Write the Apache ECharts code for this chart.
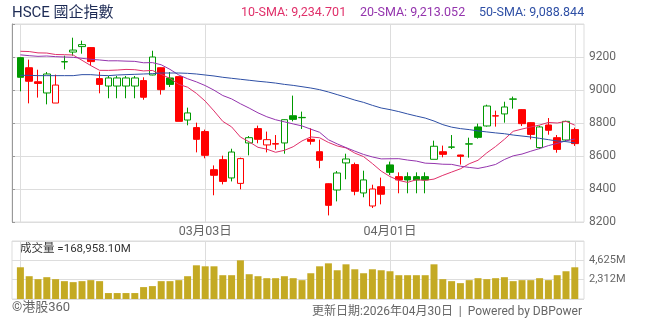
<!DOCTYPE html>
<html><head><meta charset="utf-8">
<script src="https://cdn.jsdelivr.net/npm/echarts@6/dist/echarts.min.js"></script>
<style>html,body{margin:0;padding:0;background:#fff}#c{width:654px;height:325px}</style>
</head><body><div id="c"></div>
<script>
const dates = ['02月02日','02月03日','02月04日','02月05日','02月06日','02月09日','02月10日','02月11日','02月12日','02月13日',
'02月16日','02月17日','02月18日','02月19日','02月20日','02月23日','02月24日','02月25日','02月26日','02月27日',
'03月02日','03月03日','03月04日','03月05日','03月06日','03月09日','03月10日','03月11日','03月12日','03月13日',
'03月16日','03月17日','03月18日','03月19日','03月20日','03月23日','03月24日','03月25日','03月26日','03月27日',
'03月30日','03月31日','04月01日','04月02日','04月03日','04月06日','04月07日','04月08日','04月09日','04月10日',
'04月13日','04月14日','04月15日','04月16日','04月17日','04月20日','04月21日','04月22日','04月23日','04月24日',
'04月27日','04月28日','04月29日','04月30日'];
const opens = [9196,9135,9050,8982,8921,9170,9230,9263,9257,9069,9024,9024,9024,9024,9057,9091,9135,9073,9081,8818,
8772,8748,8517,8578,8467,8434,8679,8766,8667,8675,8679,8844,8832,8701,8626,8432,8394,8558,8548,8376,
8297,8414,8546,8475,8475,8475,8475,8580,8626,8653,8606,8672,8776,8782,8844,8855,8944,8881,8802,8651,
8788,8711,8697,8760];
const closes = [9077,9053,9040,9097,9030,9172,9242,9275,9172,9034,9073,9073,9073,9073,8956,9200,9002,9034,8810,8861,
8701,8604,8483,8446,8624,8584,8711,8701,8699,8672,8820,8822,8834,8689,8574,8301,8497,8582,8386,8455,
8400,8368,8501,8455,8455,8455,8455,8659,8610,8655,8598,8674,8713,8903,8842,8897,8946,8796,8731,8776,
8756,8640,8810,8675];
const lows = [8992,8919,8954,8913,8921,9125,9208,9220,9147,8980,8950,8950,8950,8950,8941,9089,8972,9018,8810,8786,
8622,8586,8362,8428,8446,8398,8604,8677,8622,8638,8614,8810,8764,8669,8526,8240,8325,8459,8362,8350,
8285,8307,8485,8374,8374,8374,8374,8580,8592,8642,8548,8590,8705,8778,8778,8802,8887,8782,8701,8642,
8729,8620,8691,8661];
const highs = [9198,9184,9123,9109,9093,9208,9317,9299,9260,9111,9085,9085,9085,9085,9077,9238,9137,9109,9083,8893,
8802,8760,8543,8602,8644,8590,8721,8784,8748,8727,8822,8966,8869,8768,8699,8434,8509,8614,8560,8511,
8426,8469,8566,8501,8501,8501,8501,8693,8663,8727,8608,8711,8796,8911,8875,8929,8960,8883,8804,8784,
8830,8727,8814,8772];
const dirs = ['G','R','R','G','R','G','G','G','R','R','G','G','G','G','R','G','R','G','R','G',
'R','R','R','R','G','R','G','R','R','R','G','G','G','R','R','R','G','G','R','G',
'R','R','G','R','G','G','G','G','R','G','R','G','G','G','R','G','G','R','R','G',
'R','R','G','R'];
const sma10 = [9234.7,9233,9225,9224,9215,9214,9212,9180,9148,9119.2,9118.8,9121,9124.8,9123.1,9115.7,9118.5,9094.5,9070.4,9034.2,9016.9,
8979.7,8932.6,8873.1,8809.7,8776.5,8714.9,8685.8,8652.5,8641.4,8622.5,8634.4,8656.2,8691.3,8715.6,8710.6,8682.3,8660.9,8649,8617.7,8596,
8554,8508.6,8475.3,8451.9,8440.2,8456,8452.4,8460.1,8482.5,8502.5,8522.3,8552.9,8574.1,8618.9,8657.4,8701.2,8749.7,8763.4,8775.5,8787.6,
8803.4,8800,8809.7,8786.9];
const sma20 = [9213.1,9208,9204,9206,9202,9200,9198,9192,9186,9182,9176.8,9177,9175,9173.5,9165,9166,9153,9125,9091,9068.1,
9049.3,9026.8,8999,8966.4,8946.1,8916.7,8890.2,8861.5,8837.8,8819.7,8807.1,8794.4,8782.2,8762.7,8743.6,8698.6,8673.4,8650.8,8629.6,8609.3,
8594.2,8582.4,8583.3,8583.8,8575.4,8569.2,8556.7,8554.6,8550.1,8549.3,8538.2,8530.8,8524.7,8535.4,8548.8,8578.6,8601,8611.8,8629,8645,
8662.9,8676.5,8691.9,8702.9];
const sma50 = [9088.8,9089,9087,9087,9087,9087,9087,9093,9093,9089,9087,9091,9093,9095,9097,9099,9103,9103,9103,9101,
9097,9091,9085,9077,9071,9065,9059,9053,9048,9042,9034,9028,9020,9012,9002,8988,8972,8956,8939,8925,
8907,8891,8881,8869,8855,8842,8830,8812,8790,8775,8766,8760,8752,8746,8740,8735,8727,8721,8715,8707,
8699,8691,8687,8680];
const volumes = [3795,2726,2372,2609,2372,2134,2016,2134,2253,2134,711,711,711,711,1423,1541,2134,2134,2253,2726,
4030,3911,3911,2846,2846,4625,2964,2726,2489,2489,2726,2489,2253,3081,3911,4266,3437,4148,3555,3081,
3555,3437,3318,2846,2846,2846,2846,4148,2372,2134,1896,2253,2489,2372,2489,2609,2134,2253,2253,2489,
2253,2846,3318,3792];
const priceTicks = {min: 8200, max: 9400, step: 200};
const volTicks = {max: 6937.5, step: 2312.5};
const labelIdx = [21, 42];
const splitIdx = [0, 21, 42, 63];

const GREEN = '#009900', RED = '#ff0000';
const FONT = 'Roboto, "Noto Sans CJK TC", sans-serif';
const candleData = opens.map((o, i) => {
  const c = dirs[i] === 'G' ? GREEN : RED;
  const fill = closes[i] < o ? c : '#ffffff';
  return {
    value: [o, closes[i], lows[i], highs[i]],
    itemStyle: {color: fill, color0: fill, borderColor: c, borderColor0: c, borderColorDoji: c, borderWidth: 1}
  };
});

const chart = echarts.init(document.getElementById('c'), null, {renderer: 'canvas'});
const gridMainTop = 24, gridMainBottom = 103, gridVolTop = 241, gridVolBottom = 26;
const catAxis = (gi, showLabel) => ({
  type: 'category', gridIndex: gi, data: dates, boundaryGap: false,
  axisLine: {show: false}, axisTick: {show: false},
  axisLabel: {show: showLabel, interval: (i) => labelIdx.includes(i), color: '#666', fontSize: 12.5, margin: 4, fontFamily: FONT},
  splitLine: {show: true, interval: (i) => splitIdx.includes(i), lineStyle: {color: '#dddddd', width: 1}}
});
chart.setOption({
  animation: false,
  grid: [
    {left: 12, right: 70, top: gridMainTop, bottom: gridMainBottom, show: true, borderColor: '#dddddd', borderWidth: 1},
    {left: 20.4, right: 79.2, top: gridMainTop, bottom: gridMainBottom},
    {left: 12, right: 70, top: gridVolTop, bottom: gridVolBottom, show: true, borderColor: '#dddddd', borderWidth: 1},
    {left: 20.4, right: 79.2, top: gridVolTop, bottom: gridVolBottom}
  ],
  xAxis: [
    {type: 'value', gridIndex: 0, show: false, min: 0, max: 1},
    catAxis(1, true),
    {type: 'value', gridIndex: 2, show: false, min: 0, max: 1},
    catAxis(3, false)
  ],
  yAxis: [
    {type: 'value', gridIndex: 0, position: 'right', min: priceTicks.min, max: priceTicks.max, interval: priceTicks.step,
      axisLine: {show: true, lineStyle: {color: '#999'}},
      axisTick: {show: true, length: 3, lineStyle: {color: '#999'}},
      axisLabel: {color: '#666', fontSize: 12, margin: 5, fontFamily: FONT, formatter: v => v === priceTicks.max ? '' : String(v)},
      splitLine: {show: true, lineStyle: {color: '#dddddd'}}},
    {type: 'value', gridIndex: 1, show: false, min: priceTicks.min, max: priceTicks.max, splitLine: {show: false}},
    {type: 'value', gridIndex: 2, position: 'right', min: 0, max: volTicks.max, interval: volTicks.step,
      axisLine: {show: false}, axisTick: {show: false},
      axisLabel: {color: '#666', fontSize: 11, margin: 5, fontFamily: FONT,
        formatter: v => (v > 0 && v < volTicks.max) ? Math.floor(v).toLocaleString('en-US') + 'M' : ''},
      splitLine: {show: true, lineStyle: {color: '#dddddd'}}},
    {type: 'value', gridIndex: 3, show: false, min: 0, max: volTicks.max, splitLine: {show: false}}
  ],
  series: [
    {type: 'candlestick', xAxisIndex: 1, yAxisIndex: 1, data: candleData, barWidth: 7, z: 2},
    {type: 'line', xAxisIndex: 1, yAxisIndex: 1, data: sma10, showSymbol: false, z: 3, lineStyle: {color: '#e0306a', width: 1}},
    {type: 'line', xAxisIndex: 1, yAxisIndex: 1, data: sma20, showSymbol: false, z: 3, lineStyle: {color: '#9434ad', width: 1}},
    {type: 'line', xAxisIndex: 1, yAxisIndex: 1, data: sma50, showSymbol: false, z: 3, lineStyle: {color: '#2e4fa5', width: 1}},
    {type: 'bar', xAxisIndex: 3, yAxisIndex: 3, data: volumes, barWidth: 7, itemStyle: {color: '#c4aa23'}}
  ],
  graphic: [
    {type: 'text', style: {text: 'HSCE 國企指數', x: 12, y: 13, verticalAlign: 'middle', font: '15px ' + FONT, fill: '#1d2b55'}},
    {type: 'text', style: {text: '10-SMA: 9,234.701', x: 241, y: 13, verticalAlign: 'middle', font: '12.5px ' + FONT, fill: '#e0306a'}},
    {type: 'text', style: {text: '20-SMA: 9,213.052', x: 360, y: 13, verticalAlign: 'middle', font: '12.5px ' + FONT, fill: '#9434ad'}},
    {type: 'text', style: {text: '50-SMA: 9,088.844', x: 479, y: 13, verticalAlign: 'middle', font: '12.5px ' + FONT, fill: '#2e4fa5'}},
    {type: 'text', style: {text: '成交量 =168,958.10M', x: 20, y: 249, verticalAlign: 'middle', font: '11.5px ' + FONT, fill: '#333'}},
    {type: 'text', style: {text: '©港股360', x: 12, y: 307.5, verticalAlign: 'middle', font: '13px ' + FONT, fill: '#666'}},
    {type: 'text', style: {text: '更新日期:2026年04月30日  |  Powered by DBPower', x: 582, y: 311.5, align: 'right', verticalAlign: 'middle', font: '12px ' + FONT, fill: '#666'}}
  ]
});
</script></body></html>
